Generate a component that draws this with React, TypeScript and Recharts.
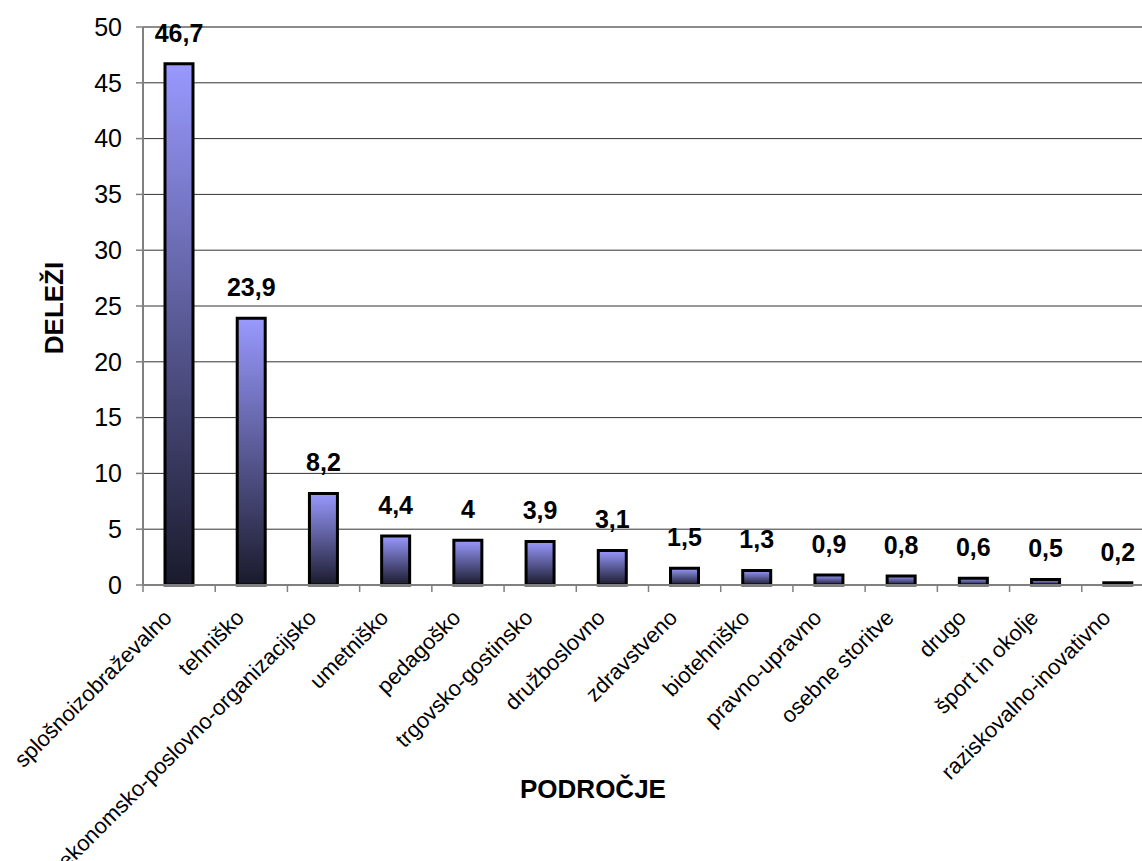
import React from "react"
import { BarChart, Bar, XAxis, YAxis, CartesianGrid, LabelList, Label, ReferenceLine } from "recharts"

const categories = [
  "splošnoizobraževalno",
  "tehniško",
  "ekonomsko-poslovno-organizacijsko",
  "umetniško",
  "pedagoško",
  "trgovsko-gostinsko",
  "družboslovno",
  "zdravstveno",
  "biotehniško",
  "pravno-upravno",
  "osebne storitve",
  "drugo",
  "šport in okolje",
  "raziskovalno-inovativno",
]

const shares = [46.7, 23.9, 8.2, 4.4, 4, 3.9, 3.1, 1.5, 1.3, 0.9, 0.8, 0.6, 0.5, 0.2]

const yTicks = [0, 5, 10, 15, 20, 25, 30, 35, 40, 45, 50]

const data = categories.map((name, i) => ({ name, value: shares[i] }))

const FONT = '"Liberation Sans", Arial, sans-serif'

function CategoryTick(props: any) {
  const { x, y, payload } = props
  const half = payload?.offset ?? 36
  return (
    <g>
      <line x1={x - half} y1={y} x2={x - half} y2={y + 7} stroke="#808080" strokeWidth={1.5} />
      <text
        x={x - 6}
        y={y + 34}
        transform={`rotate(-45, ${x - 6}, ${y + 34})`}
        textAnchor="end"
        fontSize={22}
        fontFamily={FONT}
        fill="#000"
      >
        {payload.value}
      </text>
    </g>
  )
}

export default function App() {
  return (
    <div style={{ position: "absolute", left: 0, top: 0, width: 1142, height: 861, overflow: "hidden", background: "#fff" }}>
      <BarChart width={1170} height={861} data={data} margin={{ top: 27, right: 16, bottom: 0, left: 0 }}>
        <defs>
          <linearGradient id="barGrad" x1="0" y1="0" x2="0" y2="1">
            <stop offset="0%" stopColor="#9999FF" />
            <stop offset="100%" stopColor="#1A1A2C" />
          </linearGradient>
        </defs>
        <CartesianGrid vertical={false} stroke="#333333" strokeWidth={1} />
        <ReferenceLine y={50} stroke="#8c8c8c" strokeWidth={2} />
        <XAxis
          dataKey="name"
          interval={0}
          height={276}
          tickSize={0}
          tickMargin={0}
          tickLine={false}
          axisLine={{ stroke: "#808080", strokeWidth: 2 }}
          tick={<CategoryTick />}
        >
          <Label
            content={() => (
              <text x={593} y={798} textAnchor="middle" fontSize={26} fontWeight="bold" fontFamily={FONT} fill="#000">
                PODROČJE
              </text>
            )}
          />
        </XAxis>
        <YAxis
          width={143}
          domain={[0, 50]}
          ticks={yTicks}
          interval={0}
          tickSize={7}
          tickMargin={14}
          axisLine={{ stroke: "#808080", strokeWidth: 2 }}
          tickLine={{ stroke: "#808080", strokeWidth: 1.5 }}
          tick={{ fontSize: 25, fill: "#000", fontFamily: FONT }}
        >
          <Label
            content={() => (
              <text
                x={54}
                y={308}
                transform="rotate(-90, 54, 308)"
                textAnchor="middle"
                dominantBaseline="central"
                fontSize={26}
                fontWeight="bold"
                fontFamily={FONT}
                fill="#000"
              >
                DELEŽI
              </text>
            )}
          />
        </YAxis>
        <Bar dataKey="value" fill="url(#barGrad)" stroke="#000" strokeWidth={3} barSize={28} isAnimationActive={false}>
          <LabelList
            dataKey="value"
            position="top"
            offset={22}
            formatter={(v: any) => String(v).replace(".", ",")}
            style={{ fontSize: 25, fontWeight: "bold", fill: "#000", fontFamily: FONT }}
          />
        </Bar>
      </BarChart>
    </div>
  )
}
